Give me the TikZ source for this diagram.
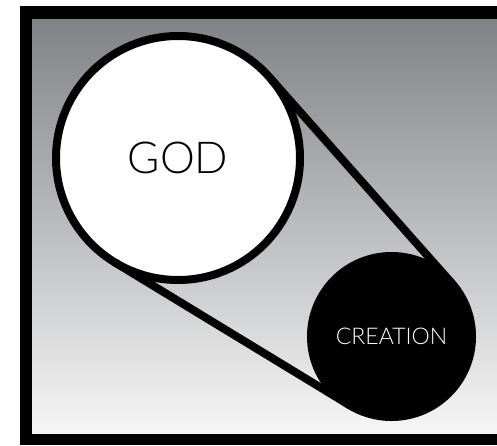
\documentclass[tikz,border=0pt]{standalone}
\usepackage{fontspec}
\IfFontExistsTF{Lato Light}{\setmainfont{Lato Light}}{\setmainfont{Lato}}
\definecolor{topgray}{RGB}{128,130,134}
\definecolor{botgray}{RGB}{246,246,246}
\begin{document}
\begin{tikzpicture}[x=1pt,y=-1pt,line width=8pt]
\useasboundingbox (0,0) rectangle (497,445);
\fill (20,6) rectangle (497,445);
\shade[top color=topgray,bottom color=botgray] (32,19) rectangle (497,433);
\node[circle,draw,fill=white,outer sep=0pt,minimum size=244pt,font=\fontsize{44}{44}\selectfont] (god) at (178,158) {GOD};
\node[circle,draw,fill=black,text=white,outer sep=0pt,minimum size=161pt,font=\fontsize{23}{23}\selectfont] (creation) at (391.5,336.5) {CREATION};
\draw (god.41.6) -- (creation.41.6);
\draw (god.-121.2) -- (creation.-121.2);
\end{tikzpicture}
\end{document}
